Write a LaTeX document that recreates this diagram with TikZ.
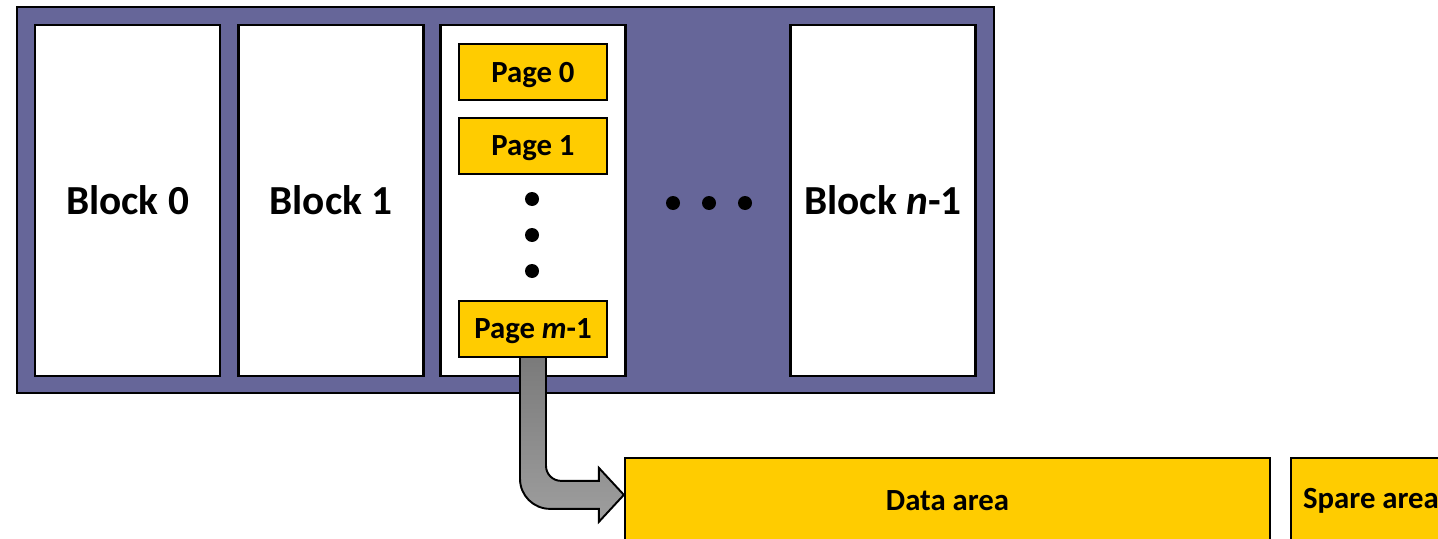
\documentclass[tikz,border=0pt]{standalone}
\usepackage{fontspec}
\setmainfont{Carlito}
\usepackage{xcolor}
\usepackage{tikz}
\usetikzlibrary{positioning,calc}

\definecolor{flashpurple}{HTML}{666699}
\definecolor{pageyellow}{HTML}{FFCC00}

\begin{document}
\begin{tikzpicture}[
    line width=1.3pt,
    blockbox/.style={
        draw, fill=white,
        minimum width=3.7cm,
        minimum height=7.02cm,
        align=center, font=\fontsize{23.5}{28}\selectfont\bfseries
    },
    pagebox/.style={
        draw, fill=pageyellow,
        minimum width=2.96cm,
        minimum height=1.12cm,
        text depth=0pt,
        align=center, font=\fontsize{17.5}{20}\selectfont\bfseries
    },
    areabox/.style={
        draw, fill=pageyellow,
        minimum height=1.7cm,
        align=center, font=\fontsize{17.5}{20}\selectfont\bfseries
    }
]
\useasboundingbox (0,0) rectangle (28.76,10.76);
% the flash chip and its blocks
\node[draw, fill=flashpurple, minimum width=19.54cm, minimum height=7.72cm] (chip) at (10.11,6.76) {};
\node[blockbox] (blk0) at ( 2.55,6.75) {Block 0};
\node[blockbox] (blk1) at ( 6.62,6.75) {Block 1};
\node[blockbox] (blk2) at (10.66,6.75) {};
\node[blockbox] (blkn) at (17.66,6.75) {Block \textit{n}-1};
\fill (13.46,6.70) circle (0.14);
\fill (14.18,6.70) circle (0.14);
\fill (14.90,6.70) circle (0.14);
% page and its areas
\node[areabox, minimum width=12.9cm] (data)  at (18.95,0.75) {Data area};
\node[areabox, minimum width=3.2cm]  (spare) at (27.42,0.75) {Spare area};
\coordinate (tip) at ($(data.north west)+(0,-0.76)$);
\coordinate (src) at (10.66,3.62);
% the arrow from a page to its layout
\draw[line width=1.1pt, top color=black!52, bottom color=black!38]
    let \p1=(src), \p2=(tip) in
    (\x1-0.26cm,\y1) -- (\x1-0.26cm,\y2+0.32cm)
    arc[start angle=180, end angle=270, radius=0.6cm]
    -- (\x2-0.5cm,\y2-0.28cm) -- (\x2-0.5cm,\y2-0.54cm) -- (\p2)
    -- (\x2-0.5cm,\y2+0.54cm) -- (\x2-0.5cm,\y2+0.28cm)
    -- (\x1+0.56cm,\y2+0.28cm)
    arc[start angle=270, end angle=180, radius=0.3cm]
    -- (\x1+0.26cm,\y1) -- cycle;
\node[pagebox] (pg0) at (10.66,9.32) {Page 0};
\node[pagebox] (pg1) at (10.66,7.84) {Page 1};
\node[pagebox] (pgm) at (10.66,4.18) {Page \textit{m}-1};
\fill (10.64,6.78) circle (0.14);
\fill (10.64,6.06) circle (0.14);
\fill (10.64,5.34) circle (0.14);
\end{tikzpicture}
\end{document}
